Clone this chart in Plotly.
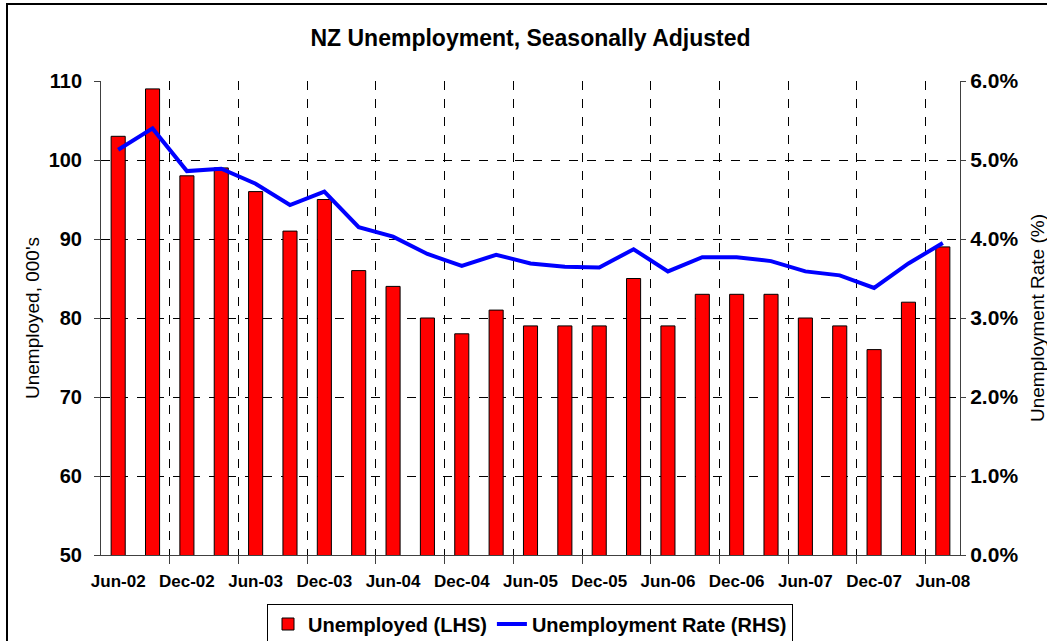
import plotly.graph_objects as go

quarters = ["Jun-02", "Sep-02", "Dec-02", "Mar-03", "Jun-03", "Sep-03", "Dec-03", "Mar-04",
            "Jun-04", "Sep-04", "Dec-04", "Mar-05", "Jun-05", "Sep-05", "Dec-05", "Mar-06",
            "Jun-06", "Sep-06", "Dec-06", "Mar-07", "Jun-07", "Sep-07", "Dec-07", "Mar-08", "Jun-08"]
unemployed = [103, 109, 98, 99, 96, 91, 95, 86, 84, 80, 78, 81, 79, 79, 79, 85,
              79, 83, 83, 83, 80, 79, 76, 82, 89]
rate = [5.13, 5.40, 4.86, 4.89, 4.70, 4.43, 4.60, 4.15, 4.03, 3.81, 3.66, 3.80, 3.69, 3.65,
        3.64, 3.87, 3.59, 3.77, 3.77, 3.72, 3.59, 3.54, 3.38, 3.69, 3.95]
label_idx = list(range(0, len(quarters), 2))
tick_labels = [quarters[i] for i in label_idx]
boundaries = [i + 1.5 for i in range(0, len(quarters) - 2, 2)]

FONT = "Liberation Sans, Arial, sans-serif"
idx = list(range(len(quarters)))

W, H = 1047, 641
L, R, T, B = 101, 87, 81, 86
PW, PH = W - L - R, H - T - B

fig = go.Figure()
fig.add_trace(go.Bar(
    x=idx, y=unemployed, name="Unemployed (LHS)",
    marker=dict(color="#FF0000", line=dict(color="black", width=1)),
    width=0.41, xaxis="x", yaxis="y",
))
fig.add_trace(go.Scatter(
    x=idx, y=rate, name="Unemployment Rate (RHS)", mode="lines",
    line=dict(color="#0000FF", width=4), xaxis="x2", yaxis="y2",
))

xr = [-0.5, len(quarters) - 0.5]
fig.update_layout(
    width=W, height=H,
    margin=dict(l=L, r=R, t=T, b=B, autoexpand=False),
    paper_bgcolor="white", plot_bgcolor="white",
    font=dict(family=FONT, color="black"),
    title=dict(text="NZ Unemployment, Seasonally Adjusted", x=(L + PW / 2) / W, xanchor="center",
               y=1 - 38 / H, yanchor="middle", yref="container",
               font=dict(size=23, weight="bold", family=FONT)),
    xaxis=dict(range=xr, tickmode="array", tickvals=boundaries, showticklabels=False,
               showgrid=True, gridcolor="black", griddash="dash", gridwidth=1,
               ticks="outside", ticklen=8, tickcolor="#404040", automargin=False,
               showline=True, linecolor="#404040", linewidth=1, zeroline=False),
    xaxis2=dict(range=xr, overlaying="x", anchor="y", side="bottom", tickmode="array",
                tickvals=label_idx, ticktext=tick_labels, showgrid=False, ticks="",
                ticklabelstandoff=14, automargin=False,
                tickfont=dict(size=17, weight="bold", family=FONT), zeroline=False),
    yaxis=dict(range=[50, 110], dtick=10, showgrid=True, gridcolor="black", griddash="dash",
               gridwidth=1, ticks="outside", ticklen=6, tickcolor="#404040",
               showline=True, linecolor="#404040", linewidth=1, zeroline=False,
               ticklabelstandoff=8, automargin=False,
               tickfont=dict(size=20, weight="bold", family=FONT)),
    yaxis2=dict(range=[0, 6], dtick=1, overlaying="y", side="right", anchor="x2",
                tickformat=".1f", ticksuffix="%", showgrid=False, zeroline=False,
                ticks="outside", ticklen=5, tickcolor="#404040", automargin=False,
                showline=True, linecolor="#404040", linewidth=1,
                tickfont=dict(size=21, weight="bold", family=FONT)),
    legend=dict(orientation="h", x=(530 - L) / PW, xanchor="center", xref="paper",
                y=1 - 624 / H, yanchor="middle", yref="container",
                bordercolor="black", borderwidth=1, bgcolor="white",
                font=dict(size=20, weight="bold", family=FONT), traceorder="normal"),
    showlegend=True,
    annotations=[
        dict(text="Unemployed, 000's", xref="paper", yref="paper", x=(32 - L) / PW, y=0.5,
             xanchor="center", yanchor="middle", textangle=-90, showarrow=False,
             font=dict(size=19, family=FONT)),
        dict(text="Unemployment Rate (%)", xref="paper", yref="paper", x=(1037 - L) / PW, y=0.5,
             xanchor="center", yanchor="middle", textangle=-90, showarrow=False,
             font=dict(size=19, family=FONT)),
    ],
    shapes=[dict(type="rect", xref="paper", yref="paper",
                 x0=(7 - L) / PW, x1=(1060 - L) / PW,
                 y0=(T + PH - 660) / PH, y1=(T + PH - 4) / PH,
                 line=dict(color="black", width=2), fillcolor="rgba(0,0,0,0)", layer="below")],
)

fig.write_html("out.html", config={"displayModeBar": False},
               post_script="document.body.style.margin='0';document.body.style.overflow='hidden';")
